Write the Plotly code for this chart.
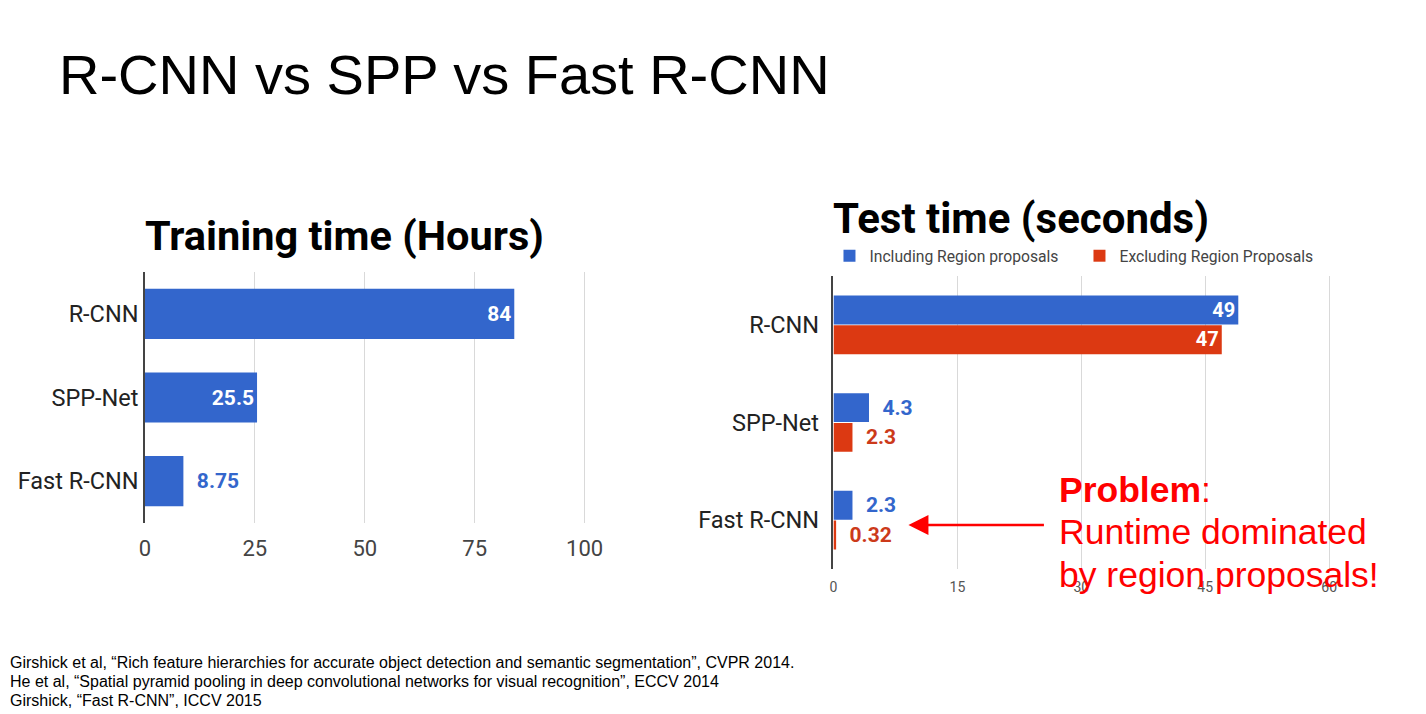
import plotly.graph_objects as go

W, H = 1426, 714

categories = ["R-CNN", "SPP-Net", "Fast R-CNN"]
train_hours = [84, 25.5, 8.75]
train_labels = ["84", "25.5", "8.75"]
train_textpos = ["inside", "inside", "outside"]

test_incl = [49, 4.3, 2.3]
test_incl_labels = ["49", "4.3", "2.3"]
test_incl_textpos = ["inside", "outside", "outside"]
test_excl = [47, 2.3, 0.32]
test_excl_labels = ["47", "2.3", "0.32"]
test_excl_textpos = ["inside", "outside", "outside"]

left_ticks = [0, 25, 50, 75, 100]
right_ticks = [0, 15, 30, 45, 60]

footnotes = [
    "Girshick et al, \u201cRich feature hierarchies for accurate object detection and semantic segmentation\u201d, CVPR 2014.",
    "He et al, \u201cSpatial pyramid pooling in deep convolutional networks for visual recognition\u201d, ECCV 2014",
    "Girshick, \u201cFast R-CNN\u201d, ICCV 2015",
]

BLUE = "#3366cc"
RED = "#dc3912"
CHART_FONT = "Roboto"
SLIDE_FONT = "Liberation Sans"

def px_x(p):
    # horizontal placement calibrated against the rendered output
    return ((p - 7) / 0.9866) / W

def px_y(p):
    return (H - p) / H

NB = "\u00a0\u00a0"

def pad(labels, pos):
    return [(NB + l) if p == "outside" else l for l, p in zip(labels, pos)]

fig = go.Figure()

fig.add_trace(go.Bar(
    y=categories, x=train_hours, orientation="h",
    marker=dict(color=BLUE, line=dict(width=0)),
    width=0.6,
    text=pad(train_labels, train_textpos), textposition=train_textpos,
    insidetextanchor="end",
    insidetextfont=dict(color="white", size=21, family=CHART_FONT, weight="bold"),
    outsidetextfont=dict(color=BLUE, size=21, family=CHART_FONT, weight="bold"),
    textangle=0, cliponaxis=False,
    showlegend=False, xaxis="x", yaxis="y", hoverinfo="skip",
))

fig.add_trace(go.Bar(
    y=categories, x=test_incl, orientation="h", name="Including Region proposals",
    marker=dict(color=BLUE, line=dict(width=0)),
    text=pad(test_incl_labels, test_incl_textpos), textposition=test_incl_textpos,
    insidetextanchor="end",
    insidetextfont=dict(color="white", size=21, family=CHART_FONT, weight="bold"),
    outsidetextfont=dict(color=BLUE, size=21, family=CHART_FONT, weight="bold"),
    textangle=0, cliponaxis=False,
    xaxis="x2", yaxis="y2", hoverinfo="skip",
))
fig.add_trace(go.Bar(
    y=categories, x=test_excl, orientation="h", name="Excluding Region Proposals",
    marker=dict(color=RED, line=dict(width=0)),
    text=pad(test_excl_labels, test_excl_textpos), textposition=test_excl_textpos,
    insidetextanchor="end",
    insidetextfont=dict(color="white", size=21, family=CHART_FONT, weight="bold"),
    outsidetextfont=dict(color="#cc3a1a", size=21, family=CHART_FONT, weight="bold"),
    textangle=0, cliponaxis=False,
    xaxis="x2", yaxis="y2", hoverinfo="skip",
))

# left: 0 -> 146px, 100 -> 586px ; right: 0 -> 835px, 15 -> 959px
l_unit = (586 - 146) / 100
l_max = 101
r_unit = (959 - 835) / 15
r_max = 61

fig.update_layout(
    autosize=True,
    margin=dict(l=0, r=0, t=0, b=0),
    paper_bgcolor="white", plot_bgcolor="white",
    barmode="group", bargap=0.39, bargroupgap=0.03,
    font=dict(family=CHART_FONT, color="#222"),
    xaxis=dict(
        domain=[px_x(146), px_x(146 + l_max * l_unit)], range=[0, l_max],
        tickvals=left_ticks, showgrid=True, gridcolor="#d9d9d9", gridwidth=1,
        zeroline=False, showline=False, ticks="",
        tickfont=dict(size=22, color="#444", family=CHART_FONT),
        ticklabelstandoff=10, anchor="y", fixedrange=True,
    ),
    yaxis=dict(
        domain=[px_y(523), px_y(272)], autorange="reversed",
        showgrid=False, zeroline=False, showline=True, linecolor="#444", linewidth=1.5,
        ticks="", tickfont=dict(size=23.5, color="#222", family=CHART_FONT),
        ticklabelstandoff=0, anchor="x",
    ),
    xaxis2=dict(
        domain=[px_x(835), px_x(835 + r_max * r_unit)], range=[0, r_max],
        tickvals=right_ticks, showgrid=True, gridcolor="#d9d9d9", gridwidth=1,
        zeroline=False, showline=False, ticks="",
        tickfont=dict(size=14, color="#555", family=CHART_FONT),
        ticklabelstandoff=8, anchor="y2",
    ),
    yaxis2=dict(
        domain=[px_y(569), px_y(276)], autorange="reversed",
        showgrid=False, zeroline=False, showline=True, linecolor="#444", linewidth=1.5,
        ticks="", tickfont=dict(size=23.5, color="#222", family=CHART_FONT),
        ticklabelstandoff=8, anchor="x2",
    ),
    legend=dict(
        orientation="h", x=px_x(831), y=px_y(256), xanchor="left", yanchor="middle",
        font=dict(size=15.7, color="#444", family=CHART_FONT),
        bgcolor="rgba(0,0,0,0)", itemwidth=30, tracegroupgap=0,
        entrywidth=205, entrywidthmode="pixels",
    ),
)

annotations = [
    dict(text="R-CNN vs SPP vs Fast R-CNN", x=px_x(58), y=px_y(75),
         font=dict(size=56, color="#000", family=SLIDE_FONT)),
    dict(text="<b>Training time (Hours)</b>", x=px_x(144), y=px_y(235),
         font=dict(size=41.5, color="#000", family=CHART_FONT)),
    dict(text="<b>Test time (seconds)</b>", x=px_x(833), y=px_y(218),
         font=dict(size=42, color="#000", family=CHART_FONT)),
    dict(text="<b>Problem</b>:", x=px_x(1059), y=px_y(490),
         font=dict(size=35.5, color="#ff0000", family=SLIDE_FONT)),
    dict(text="Runtime dominated", x=px_x(1059), y=px_y(532),
         font=dict(size=35.5, color="#ff0000", family=SLIDE_FONT)),
    dict(text="by region proposals!", x=px_x(1059), y=px_y(575),
         font=dict(size=35.5, color="#ff0000", family=SLIDE_FONT)),
]
for i, t in enumerate(footnotes):
    annotations.append(dict(text=t, x=px_x(9), y=px_y(662 + 19 * i),
                            font=dict(size=16, color="#000", family=SLIDE_FONT)))
for a in annotations:
    a.update(xref="paper", yref="paper", xanchor="left", yanchor="middle",
             showarrow=False)

# arrow pointing at the 0.32 label
annotations.append(dict(
    text="", xref="paper", yref="paper", x=px_x(910), y=px_y(525),
    axref="pixel", ayref="pixel", ax=137, ay=0, showarrow=True,
    arrowhead=2, arrowsize=1.6, arrowwidth=2.5, arrowcolor="#ff0000",
))
fig.update_layout(annotations=annotations)

post = (
    "document.documentElement.style.margin='0';"
    "document.documentElement.style.overflow='hidden';"
    "document.body.style.margin='0';"
    "document.body.style.overflow='hidden';"
    "var gd=document.getElementById('{plot_id}');"
    "gd.style.width='100vw';gd.style.height='100vh';"
    "Plotly.Plots.resize(gd);"
)

fig.write_html(
    "out.html",
    config={"displayModeBar": False, "responsive": True},
    default_width="100vw", default_height="100vh",
    post_script=post,
)
